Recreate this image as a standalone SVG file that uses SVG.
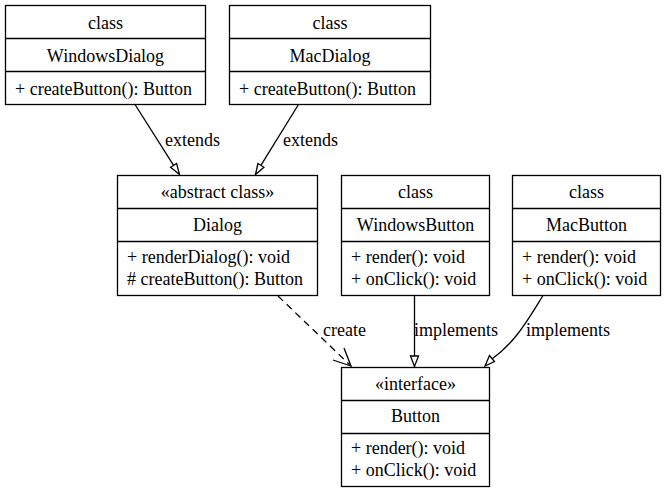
<svg xmlns="http://www.w3.org/2000/svg" width="666" height="493" viewBox="0 0 666 493">
<defs>
<style>
.t{font-family:'Liberation Serif','Times New Roman',serif;font-size:18px;fill:#000}
.c{text-anchor:middle}
.box{fill:#fff;stroke:#000;stroke-width:1.3}
.ln{fill:none;stroke:#000;stroke-width:1.3}
.tri{fill:#fff;stroke:#000;stroke-width:1.3}
</style>
</defs>
<rect width="666" height="493" fill="#fff"/>
<g id="WindowsDialog">
<rect class="box" x="5.5" y="5.5" width="200" height="99"/>
<line class="ln" x1="5.5" y1="38.5" x2="205.5" y2="38.5"/>
<line class="ln" x1="5.5" y1="71.5" x2="205.5" y2="71.5"/>
<text class="t c" x="105.5" y="28.5">class</text>
<text class="t c" x="105.5" y="61.5">WindowsDialog</text>
<text class="t" x="15" y="94.5">+ createButton(): Button</text>
</g>
<g id="MacDialog">
<rect class="box" x="229.5" y="5.5" width="201" height="99"/>
<line class="ln" x1="229.5" y1="38.5" x2="430.5" y2="38.5"/>
<line class="ln" x1="229.5" y1="71.5" x2="430.5" y2="71.5"/>
<text class="t c" x="330" y="28.5">class</text>
<text class="t c" x="330" y="61.5">MacDialog</text>
<text class="t" x="239" y="94.5">+ createButton(): Button</text>
</g>
<g id="Dialog">
<rect class="box" x="117.5" y="175.5" width="200" height="120"/>
<line class="ln" x1="117.5" y1="208.5" x2="317.5" y2="208.5"/>
<line class="ln" x1="117.5" y1="241.5" x2="317.5" y2="241.5"/>
<text class="t c" x="217.5" y="198">«abstract class»</text>
<text class="t c" x="217.5" y="231">Dialog</text>
<text class="t" x="127" y="262.5">+ renderDialog(): void</text>
<text class="t" x="127" y="284.5"># createButton(): Button</text>
</g>
<g id="WindowsButton">
<rect class="box" x="341.5" y="175.5" width="148" height="120"/>
<line class="ln" x1="341.5" y1="208.5" x2="489.5" y2="208.5"/>
<line class="ln" x1="341.5" y1="241.5" x2="489.5" y2="241.5"/>
<text class="t c" x="415.5" y="198">class</text>
<text class="t c" x="415.5" y="231">WindowsButton</text>
<text class="t" x="351" y="262.5">+ render(): void</text>
<text class="t" x="351" y="284.5">+ onClick(): void</text>
</g>
<g id="MacButton">
<rect class="box" x="512.5" y="175.5" width="148" height="120"/>
<line class="ln" x1="512.5" y1="208.5" x2="660.5" y2="208.5"/>
<line class="ln" x1="512.5" y1="241.5" x2="660.5" y2="241.5"/>
<text class="t c" x="586.5" y="198">class</text>
<text class="t c" x="586.5" y="231">MacButton</text>
<text class="t" x="522" y="262.5">+ render(): void</text>
<text class="t" x="522" y="284.5">+ onClick(): void</text>
</g>
<g id="Button">
<rect class="box" x="341.5" y="367.5" width="148" height="119"/>
<line class="ln" x1="341.5" y1="400.5" x2="489.5" y2="400.5"/>
<line class="ln" x1="341.5" y1="433.5" x2="489.5" y2="433.5"/>
<text class="t c" x="415.5" y="389.5">«interface»</text>
<text class="t c" x="415.5" y="422">Button</text>
<text class="t" x="351" y="454">+ render(): void</text>
<text class="t" x="351" y="476">+ onClick(): void</text>
</g>
<g id="connectors">
<path class="ln" d="M135,104.5 L173.6,165.3"/>
<polygon class="tri" points="179.5,174.5 176.6,163.5 170.6,167.3"/>
<text class="t" x="165" y="146">extends</text>
<path class="ln" d="M298.5,104.5 L260.9,165.3"/>
<polygon class="tri" points="255.5,174.5 257.9,163.5 263.9,167.3"/>
<text class="t" x="283" y="146">extends</text>
<path class="ln" d="M278,296 L351,366" stroke-dasharray="7,5"/>
<path class="ln" d="M333,360 L351,366 L344,348"/>
<text class="t" x="323" y="336">create</text>
<path class="ln" d="M414.5,295.5 L414.5,356"/>
<polygon class="tri" points="414.5,366.5 410.5,356 418.5,356"/>
<text class="t" x="414" y="336">implements</text>
<path class="ln" d="M543,295.5 C534,310 526,324 516,336 C508,346 500,353 492,359"/>
<polygon class="tri" points="485,366 489.5,355.5 494.5,361.5"/>
<text class="t" x="526" y="336">implements</text>
</g>
</svg>
